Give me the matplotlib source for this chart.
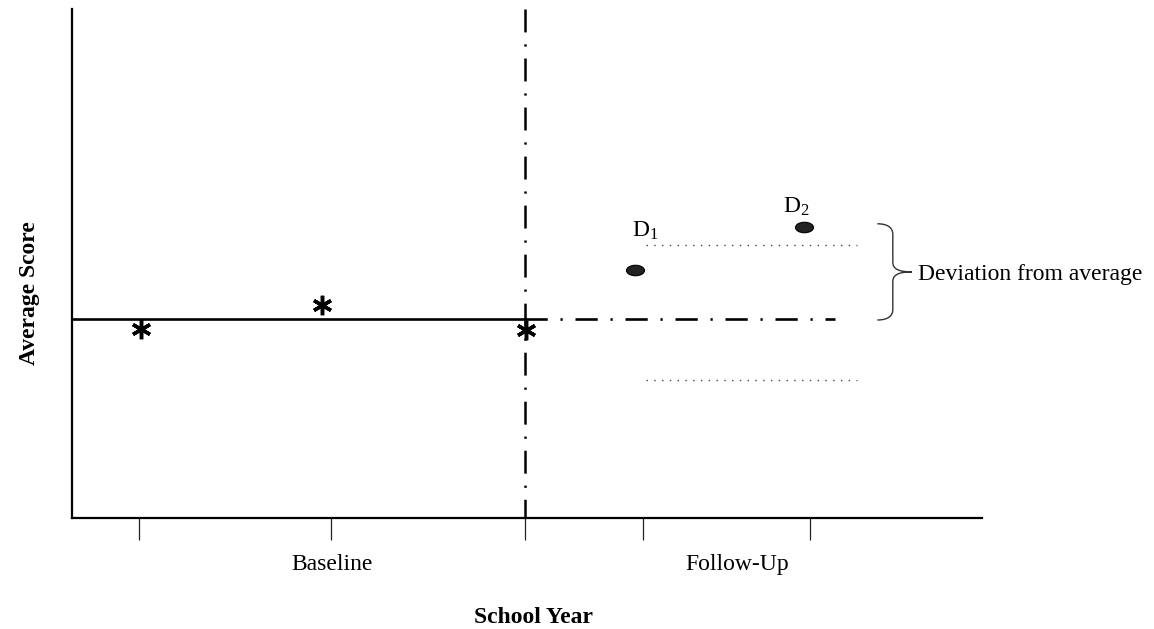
import matplotlib
matplotlib.use("Agg")
import matplotlib.pyplot as plt
import numpy as np
from matplotlib.path import Path
from matplotlib.patches import PathPatch

plt.rcParams['font.family'] = ['Liberation Serif', 'DejaVu Serif']
plt.rcParams['mathtext.fontset'] = 'custom'
plt.rcParams['mathtext.rm'] = 'Liberation Serif'
plt.rcParams['mathtext.it'] = 'Liberation Serif'
plt.rcParams['mathtext.bf'] = 'Liberation Serif:bold'
plt.rcParams['lines.scale_dashes'] = False

# ---- data (schematic units, 0-100 on both axes) ----
tick_positions = [7.4, 28.5, 49.8, 62.7, 81.1]
period_labels = ["Baseline", "Follow-Up"]
period_label_pos = [28.6, 73.1]

baseline_x = [7.6, 27.5, 49.9]
baseline_y = [37.1, 41.8, 36.9]

average_level = 39.1
baseline_start, intervention_x, followup_end = 0.0, 49.8, 83.8

followup_x = [61.9, 80.4]
followup_y = [48.7, 57.2]
followup_names = ["D$_1$", "D$_2$"]
label_x = [61.5, 78.1]
label_y = [55.2, 59.9]

band_upper, band_lower = 53.6, 27.1
band_x = [63.1, 86.3]

brace_left, brace_mid, brace_tip = 88.5, 90.2, 92.3
brace_top, brace_bottom = 57.8, 38.9

fig = plt.figure(figsize=(11.54, 6.29), dpi=100)
W, H = 1154, 629
ax = fig.add_axes([72 / W, (629 - 518) / H, (982 - 72) / W, (518 - 9) / H])
ax.set_xlim(0, 100)
ax.set_ylim(0, 100)

for s in ['top', 'right']:
    ax.spines[s].set_visible(False)
for s in ['left', 'bottom']:
    ax.spines[s].set_linewidth(1.6)
    ax.spines[s].set_color('black')

# ticks
ax.set_xticks(tick_positions)
ax.set_xticklabels([])
ax.tick_params(axis='x', which='major', direction='out', length=16, width=0.9, color='#222222')
ax.set_xticks(period_label_pos, minor=True)
ax.set_xticklabels(period_labels, minor=True, fontsize=17)
ax.tick_params(axis='x', which='minor', length=0, pad=26)
ax.set_yticks([])

ax.set_xlabel("School Year", fontsize=17, fontweight='bold')
ax.xaxis.set_label_coords(0.507, -0.1945)
ax.xaxis.label.set_va('center')
ax.set_ylabel("Average Score", fontsize=17, fontweight='bold')
ax.yaxis.set_label_coords(-0.047, 0.442)
ax.yaxis.label.set_va('center')

# average line (baseline)
ax.plot([baseline_start, intervention_x], [average_level, average_level],
        color='black', lw=1.9, solid_capstyle='butt', clip_on=False)
# projected average (follow-up)
dashdot = (0, (16.0, 9.2, 1.6, 9.2))
ax.plot([intervention_x, followup_end], [average_level, average_level],
        color='black', lw=1.9, linestyle=dashdot, dash_capstyle='butt', clip_on=False)
# intervention vertical line (drawn top to bottom)
ax.plot([intervention_x, intervention_x], [100, 0],
        color='black', lw=1.8, linestyle=(0, (16.5, 8.6, 1.6, 8.6)), dash_capstyle='butt', clip_on=False)

# baseline scores
ax.plot(baseline_x, baseline_y, linestyle='none', marker=(6, 2, 0), markersize=14,
        markeredgewidth=2.5, color='black', clip_on=False, zorder=5)

# follow-up points (ellipses)
circ = Path.unit_circle()
ell = Path(circ.vertices * np.array([1.0, 0.58]), circ.codes)
ax.plot(followup_x, followup_y, linestyle='none', marker=ell, markersize=13,
        color='#222222', markeredgecolor='black', markeredgewidth=0.8, zorder=5)
for lx, ly, name in zip(label_x, label_y, followup_names):
    ax.text(lx, ly, name, fontsize=17, ha='left', va='baseline')

# band (dotted)
for yb in (band_upper, band_lower):
    ax.plot(band_x, [yb, yb], color='#444444', lw=1.0, linestyle=(0, (1.0, 4.6)))

# brace
ymid = (brace_top + brace_bottom) / 2
r = (brace_top - brace_bottom) * 0.11
dx = brace_mid - brace_left
verts = [
    (brace_left, brace_top),
    (brace_left + dx * 0.7, brace_top), (brace_mid, brace_top - r * 0.4), (brace_mid, brace_top - r),
    (brace_mid, ymid + r * 0.9),
    (brace_mid, ymid + r * 0.2), (brace_mid + (brace_tip - brace_mid) * 0.4, ymid), (brace_tip, ymid),
    (brace_mid + (brace_tip - brace_mid) * 0.4, ymid), (brace_mid, ymid - r * 0.2), (brace_mid, ymid - r * 0.9),
    (brace_mid, brace_bottom + r),
    (brace_mid, brace_bottom + r * 0.4), (brace_left + dx * 0.7, brace_bottom), (brace_left, brace_bottom),
]
codes = [Path.MOVETO,
         Path.CURVE4, Path.CURVE4, Path.CURVE4,
         Path.LINETO,
         Path.CURVE4, Path.CURVE4, Path.CURVE4,
         Path.CURVE4, Path.CURVE4, Path.CURVE4,
         Path.LINETO,
         Path.CURVE4, Path.CURVE4, Path.CURVE4]
ax.add_patch(PathPatch(Path(verts, codes), facecolor='none', edgecolor='#333333', lw=1.0, clip_on=False))
ax.text(brace_tip + 0.7, ymid - 0.6, "Deviation from average", fontsize=17, ha='left', va='center')

fig.savefig("out.png", dpi=100)
